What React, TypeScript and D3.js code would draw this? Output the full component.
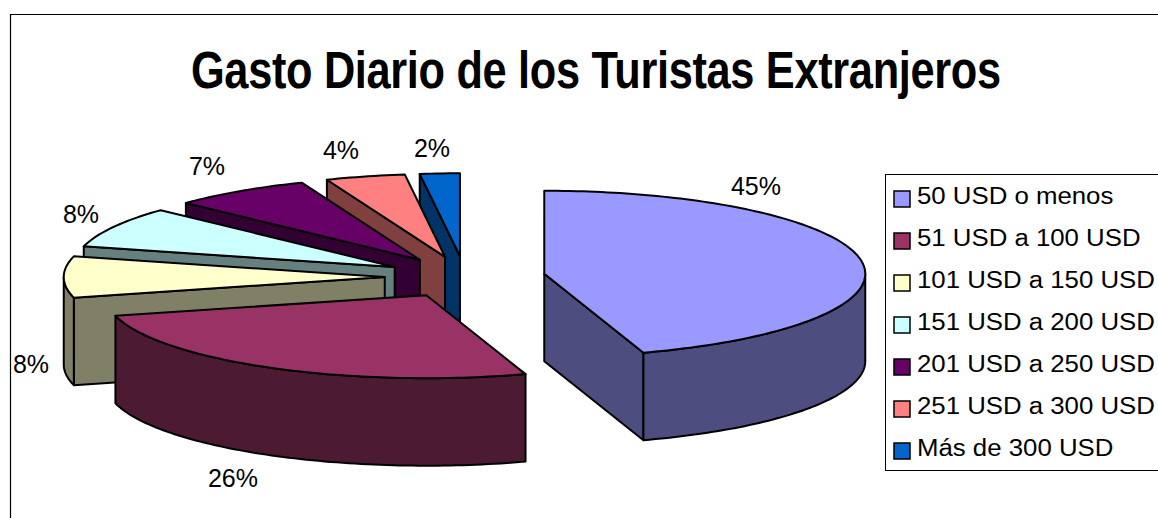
import React from "react";
import * as d3 from "d3";

const titleText = "Gasto Diario de los Turistas Extranjeros";
const categories = [
  "50 USD o menos",
  "51 USD a 100 USD",
  "101 USD a 150 USD",
  "151 USD a 200 USD",
  "201 USD a 250 USD",
  "251 USD a 300 USD",
  "Más de 300 USD",
];
const percents = [45, 26, 8, 8, 7, 4, 2];
const topColors = ["#9999FF", "#993366", "#FFFFCC", "#CCFFFF", "#660066", "#FF8080", "#0066CC"];
const wallColors = ["#4D4D80", "#4D1A33", "#808066", "#668080", "#330033", "#804040", "#003366"];

const W = 1158, H = 518;
const FONT = "'Liberation Sans', Arial, sans-serif";
const CX = 465, CY = 277, RX = 321, RY = 83, DEPTH = 87.5, EXPLODE = 0.25;
const labelCenters: [number, number][] = [
  [756, 186], [233, 478], [31, 364], [81, 214], [207, 166], [341, 150], [432, 148],
];

const x = d3.scaleLinear().domain([-1, 1]).range([CX - RX, CX + RX]);
const y = d3.scaleLinear().domain([-1, 1]).range([CY - RY, CY + RY]);
const line = d3.line<[number, number]>().curve(d3.curveLinear);
const arcs = d3.pie<number>().sort(null).startAngle(0).endAngle(2 * Math.PI)(percents);

const sweep = (a0: number, a1: number): number[] => {
  const n = Math.max(2, Math.ceil((a1 - a0) / 0.02));
  return d3.range(n + 1).map((i) => a0 + ((a1 - a0) * i) / n);
};

function Slice({ i }: { i: number }) {
  const { startAngle: a0, endAngle: a1 } = arcs[i];
  const mid = (a0 + a1) / 2;
  const ox = EXPLODE * Math.sin(mid), oy = -EXPLODE * Math.cos(mid);
  const P = (a: number, r = 1, dz = 0): [number, number] => [
    x(ox + r * Math.sin(a)),
    y(oy - r * Math.cos(a)) + dz,
  ];
  const c = P(0, 0);
  const stroke = { stroke: "#000", strokeWidth: 2, strokeLinejoin: "round" as const };
  const wall = wallColors[i];
  const sideFace = (a: number) => (
    <path
      d={line([c, P(a), P(a, 1, DEPTH), P(0, 0, DEPTH)]) + "Z"}
      fill={wall}
      {...stroke}
    />
  );
  const lo = Math.max(a0, Math.PI / 2), hi = Math.min(a1, (3 * Math.PI) / 2);
  const arcTop = sweep(a0, a1).map((a) => P(a));
  return (
    <g>
      {Math.sin(a0) < -1e-6 && sideFace(a0)}
      {Math.sin(a1) > 1e-6 && sideFace(a1)}
      {hi > lo && (
        <path
          d={line([
            ...sweep(lo, hi).map((a) => P(a)),
            ...sweep(lo, hi).reverse().map((a) => P(a, 1, DEPTH)),
          ]) + "Z"}
          fill={wall}
          {...stroke}
        />
      )}
      <path d={line([c, ...arcTop]) + "Z"} fill={topColors[i]} {...stroke} />
    </g>
  );
}

export default function App() {
  const drawOrder = [6, 5, 4, 3, 2, 1, 0];
  return (
    <svg
      width={W}
      height={H}
      viewBox={`0 0 ${W} ${H}`}
      style={{ position: "absolute", left: 0, top: 0, background: "#fff" }}
    >
      <path d={`M10.5 ${H}V14.5H${W}`} fill="none" stroke="#000" strokeWidth={1.2} />
      <text
        transform="translate(191,88) scale(0.85,1)"
        fontFamily={FONT}
        fontWeight={700}
        fontSize={51}
        textLength={953}
        lengthAdjust="spacing"
      >
        {titleText}
      </text>
      {drawOrder.map((i) => (
        <Slice key={i} i={i} />
      ))}
      {percents.map((p, i) => (
        <text
          key={i}
          x={labelCenters[i][0]}
          y={labelCenters[i][1] + 8.5}
          textAnchor="middle"
          fontFamily={FONT}
          fontSize={25}
        >
          {p}%
        </text>
      ))}
      <rect x={885.5} y={174.5} width={300} height={296} fill="#fff" stroke="#000" strokeWidth={1} />
      {categories.map((c, i) => (
        <g key={c}>
          <rect
            x={894}
            y={191 + i * 42}
            width={16}
            height={16}
            fill={topColors[i]}
            stroke="#000"
            strokeWidth={1.5}
          />
          <text
            transform={`translate(917,${204 + i * 42}) scale(1.053,1)`}
            fontFamily={FONT}
            fontSize={24.5}
          >
            {c}
          </text>
        </g>
      ))}
    </svg>
  );
}
